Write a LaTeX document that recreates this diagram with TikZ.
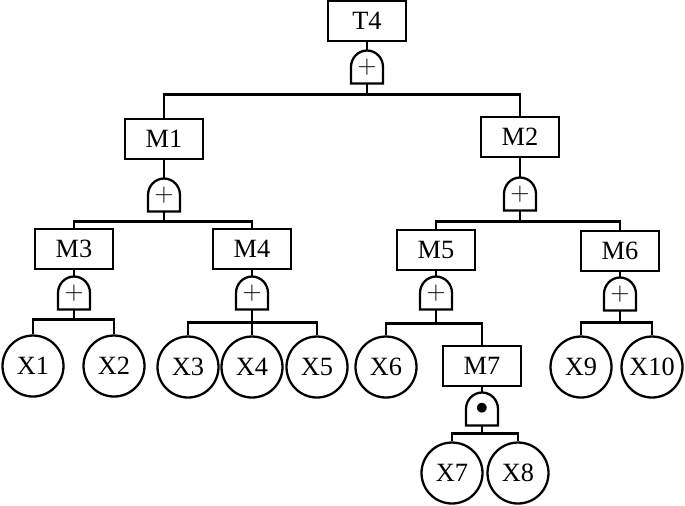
\documentclass[tikz,border=0pt]{standalone}
\usepackage{fontspec}
\setmainfont{Liberation Serif}
\newcommand{\gateoutline}[1]{\draw (#1.south west) -- (#1.west) arc[start angle=180,end angle=0,x radius=0.32cm,y radius=0.33cm] -- (#1.south east) -- cycle;}
\begin{document}
\begin{tikzpicture}[x=0.02cm,y=-0.02cm,line width=1.3pt,
  font=\fontsize{15}{18}\selectfont,
  event/.style={draw,minimum width=1.56cm,minimum height=0.8cm,inner sep=0pt},
  basic/.style={draw,circle,minimum size=1.22cm,inner sep=0pt},
  gate/.style={minimum width=0.64cm,minimum height=0.66cm,inner sep=0pt,outer sep=0pt}]
\useasboundingbox (0,0) rectangle (685,505);

% events and gates
\node[event] (T4) at (367,21) {T4};
\node[gate] (gT4) at (367,67) {$+$};
\node[event] (M1) at (164,139) {M1};
\node[gate] (gM1) at (164,195) {$+$};
\node[event] (M2) at (520,137) {M2};
\node[gate] (gM2) at (520,194) {$+$};
\node[event] (M3) at (74,249) {M3};
\node[gate] (gM3) at (74,293) {$+$};
\node[event] (M4) at (252,249) {M4};
\node[gate] (gM4) at (252,293) {$+$};
\node[event] (M5) at (436,250) {M5};
\node[gate] (gM5) at (436,293) {$+$};
\node[event] (M6) at (620,251) {M6};
\node[gate] (gM6) at (620,294) {$+$};
\node[event] (M7) at (482,366) {M7};
\node[gate] (gM7) at (482,409) {$\bullet$};

\foreach \g in {gT4,gM1,gM2,gM3,gM4,gM5,gM6,gM7} {\gateoutline{\g}}

% basic events
\node[basic] (X1) at (33,366) {X1};
\node[basic] (X2) at (114,366) {X2};
\node[basic] (X3) at (188,367) {X3};
\node[basic] (X4) at (252,367) {X4};
\node[basic] (X5) at (317,367) {X5};
\node[basic] (X6) at (386,367) {X6};
\node[basic] (X7) at (452,473) {X7};
\node[basic] (X8) at (518,473) {X8};
\node[basic] (X9) at (581,367) {X9};
\node[basic] (X10) at (652,367) {X10};

% connections
\draw (T4) -- (gT4);
\draw (gT4.south) -- ++(0,11) -| (M1.north);
\draw (gT4.south) -- ++(0,11) -| (M2.north);
\draw (M1) -- (gM1);
\draw (gM1.south) -- ++(0,10) -| (M3.north);
\draw (gM1.south) -- ++(0,10) -| (M4.north);
\draw (M2) -- (gM2);
\draw (gM2.south) -- ++(0,11) -| (M5.north);
\draw (gM2.south) -- ++(0,11) -| (M6.north);
\draw (M3) -- (gM3);
\draw (gM3.south) -- ++(0,10) -| (X1.north);
\draw (gM3.south) -- ++(0,10) -| (X2.north);
\draw (M4) -- (gM4);
\draw (gM4.south) -- ++(0,13) -| (X3.north);
\draw (gM4.south) -- (X4.north);
\draw (gM4.south) -- ++(0,13) -| (X5.north);
\draw (M5) -- (gM5);
\draw (gM5.south) -- ++(0,14) -| (X6.north);
\draw (gM5.south) -- ++(0,14) -| (M7.north);
\draw (M6) -- (gM6);
\draw (gM6.south) -- ++(0,12) -| (X9.north);
\draw (gM6.south) -- ++(0,12) -| (X10.north);
\draw (M7) -- (gM7);
\draw (gM7.south) -- ++(0,8) -| (X7.north);
\draw (gM7.south) -- ++(0,8) -| (X8.north);
\end{tikzpicture}
\end{document}
